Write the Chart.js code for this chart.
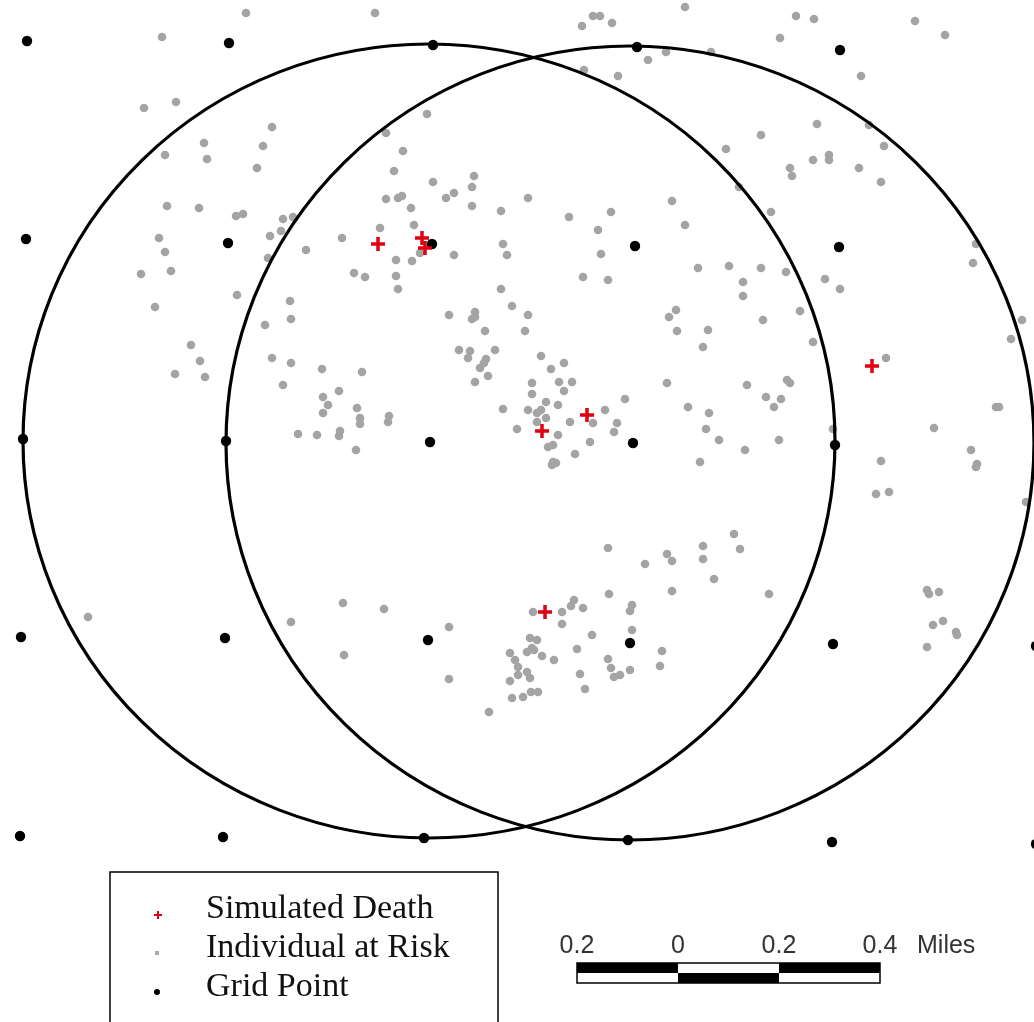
<!DOCTYPE html>
<html>
<head>
<meta charset="utf-8">
<script src="https://cdn.jsdelivr.net/npm/chart.js@4/dist/chart.umd.min.js"></script>
<style>
  html, body { margin: 0; padding: 0; background: #fff; overflow: hidden; }
  #wrap { position: relative; width: 1034px; height: 1022px; }
</style>
</head>
<body>
<div id="wrap"><canvas id="riskmap"></canvas></div>
<script>
// map units: 1 unit ~ 1/505 mile (0.2 mi ~ 101 units)
const simulatedDeaths = [
  [378, 244], [422, 238], [425, 248], [542, 431], [587, 415], [872, 366], [545, 612]
]

const gridPoints = [
  [27, 41], [229, 43], [433, 45], [637, 47], [840, 50],
  [26, 239], [228, 243], [432, 244], [635, 246], [839, 247],
  [23, 439], [226, 441], [430, 442], [633, 443], [835, 445],
  [21, 637], [225, 638], [428, 640], [630, 643], [833, 644], [1036, 646],
  [20, 836], [223, 837], [424, 838], [628, 840], [832, 842], [1036, 844]
]

const atRisk = [
  // north-west
  [246, 13], [162, 37], [144, 108], [176, 102], [272, 127], [204, 143], [263, 146],
  [165, 155], [207, 159], [257, 168], [167, 206], [199, 208], [236, 216], [243, 214],
  [283, 219], [293, 217], [281, 231], [270, 236], [159, 238], [342, 238], [165, 252],
  [306, 250], [268, 258], [141, 274], [171, 271],
  // north-centre
  [375, 13], [593, 16], [600, 16], [582, 26], [612, 23], [666, 52], [648, 60], [584, 70],
  [618, 76], [427, 114], [386, 133], [403, 151], [394, 171], [474, 176], [433, 182],
  [472, 187], [454, 193], [446, 198], [386, 199], [398, 198], [402, 196], [528, 198],
  [411, 208], [472, 206], [501, 211], [672, 201], [569, 217], [611, 212], [414, 225],
  [380, 228], [598, 230], [685, 225], [503, 244], [507, 255], [454, 255], [396, 260],
  [412, 261], [420, 253], [601, 254], [354, 273], [365, 277], [396, 276], [583, 277],
  [608, 280], [501, 289], [398, 289], [685, 7],
  // north-east
  [796, 16], [814, 19], [915, 21], [945, 35], [780, 38], [711, 52], [861, 76], [817, 124],
  [869, 125], [761, 135], [884, 146], [726, 149], [829, 155], [829, 160], [813, 160],
  [790, 168], [792, 176], [859, 168], [881, 182], [739, 187], [771, 212], [976, 244],
  [973, 263], [698, 268], [729, 266], [761, 268], [786, 272], [743, 282], [825, 279],
  [840, 289],
  // west
  [237, 295], [155, 307], [290, 301], [291, 319], [265, 325], [191, 345], [200, 361],
  [175, 374], [205, 377], [272, 358], [291, 363], [322, 369], [283, 385], [339, 391],
  [323, 397], [328, 405], [323, 413], [298, 434], [317, 435], [340, 431], [339, 436],
  // centre
  [512, 306], [528, 315], [449, 315], [475, 312], [472, 319], [475, 317], [485, 331],
  [525, 331], [459, 350], [470, 351], [468, 358], [495, 350], [486, 359], [484, 363],
  [480, 368], [488, 376], [475, 382], [541, 356], [564, 363], [551, 369], [532, 383],
  [559, 382], [572, 382], [564, 391], [532, 394], [546, 402], [558, 405], [528, 410],
  [541, 410], [537, 413], [546, 418], [537, 422], [503, 409], [517, 429], [570, 422],
  [593, 423], [605, 410], [617, 423], [625, 399], [614, 432], [558, 435], [590, 442],
  [575, 454], [548, 447], [553, 445], [553, 462], [556, 463], [552, 465], [667, 383],
  [669, 317], [676, 310], [677, 331], [688, 407], [362, 372], [357, 408], [360, 418],
  [360, 424], [389, 416], [388, 422], [356, 450], [608, 548], [645, 564], [667, 554],
  [672, 561],
  // east
  [743, 296], [800, 311], [763, 320], [708, 330], [703, 347], [813, 342], [886, 358],
  [1022, 320], [1011, 339], [747, 385], [787, 380], [790, 383], [766, 397], [781, 399],
  [774, 407], [709, 413], [706, 429], [719, 440], [779, 440], [745, 450], [700, 462],
  [833, 429], [996, 407], [999, 407], [934, 428], [971, 450], [977, 464], [976, 467],
  [881, 461], [876, 494], [889, 492], [1026, 502], [734, 534], [703, 546], [740, 549],
  [703, 559], [714, 579],
  // south
  [88, 617], [291, 622], [343, 603], [344, 655], [384, 609], [449, 627], [449, 679],
  [533, 612], [562, 612], [562, 624], [571, 606], [574, 600], [583, 608], [609, 594],
  [672, 591], [632, 605], [630, 611], [632, 630], [592, 635], [530, 638], [537, 640],
  [532, 648], [527, 652], [534, 650], [542, 656], [510, 653], [515, 660], [554, 660],
  [577, 649], [518, 667], [527, 672], [518, 675], [530, 678], [510, 681], [580, 674],
  [585, 689], [608, 659], [611, 668], [614, 677], [620, 675], [630, 670], [662, 651],
  [660, 666], [531, 692], [538, 692], [523, 697], [512, 698], [489, 712],
  // south-east
  [769, 594], [927, 590], [929, 594], [939, 592], [933, 625], [943, 621], [956, 632],
  [957, 635], [927, 647]
]

// search circles: centre x, centre y, radius x, radius y
const circles = [
  [429, 441, 406, 397],
  [630, 443, 404, 397]
]

const legendLabels = ['Simulated Death', 'Individual at Risk', 'Grid Point']
const scaleTicks = ['0.2', '0', '0.2', '0.4']
const scaleTickPos = [-0.2, 0, 0.2, 0.4]
const unitsPerMile = 505

function toPoints (arr) {
  return arr.map(p => ({ x: p[0], y: p[1] }))
}

const overlay = {
  id: 'overlay',
  afterDatasetsDraw (chart) {
    const ctx = chart.ctx
    const xs = chart.scales.x
    const ys = chart.scales.y
    ctx.save()
    // circles
    ctx.strokeStyle = '#000'
    ctx.lineWidth = 3.2
    circles.forEach(c => {
      const cx = xs.getPixelForValue(c[0])
      const cy = ys.getPixelForValue(c[1])
      const rx = Math.abs(xs.getPixelForValue(c[0] + c[2]) - cx)
      const ry = Math.abs(ys.getPixelForValue(c[1] + c[3]) - cy)
      ctx.beginPath()
      ctx.ellipse(cx, cy, rx, ry, 0, 0, Math.PI * 2)
      ctx.stroke()
    })

    // legend box
    ctx.fillStyle = '#fff'
    ctx.fillRect(110, 872, 388, 160)
    ctx.lineWidth = 1.5
    ctx.strokeRect(110, 872, 388, 160)
    ctx.font = '34px "Liberation Serif", "Times New Roman", serif'
    ctx.textBaseline = 'middle'
    ctx.fillStyle = '#111'
    legendLabels.forEach((t, i) => {
      ctx.fillText(t, 206, 909 + i * 39)
    })
    // legend symbols
    ctx.strokeStyle = '#e0000f'
    ctx.lineWidth = 2
    ctx.beginPath()
    ctx.moveTo(154, 915); ctx.lineTo(162, 915)
    ctx.moveTo(158, 911); ctx.lineTo(158, 919)
    ctx.stroke()
    ctx.fillStyle = '#aaa'
    ctx.fillRect(155, 951, 4, 4)
    ctx.fillStyle = '#000'
    ctx.beginPath()
    ctx.arc(157, 992, 3, 0, Math.PI * 2)
    ctx.fill()

    // scale bar
    const x0 = xs.getPixelForValue(678)
    const seg = xs.getPixelForValue(678 + 0.2 * unitsPerMile) - x0
    const top = 963
    const mid = 973
    const bot = 983
    ctx.fillStyle = '#000'
    ctx.fillRect(x0 - seg, top, seg, mid - top)
    ctx.fillRect(x0 + seg, top, seg, mid - top)
    ctx.fillRect(x0, mid, seg, bot - mid)
    ctx.lineWidth = 1.5
    ctx.strokeStyle = '#000'
    ctx.strokeRect(x0 - seg, top, seg * 3, bot - top)
    ctx.font = '25px "Liberation Sans", Arial, sans-serif'
    ctx.fillStyle = '#333'
    ctx.textAlign = 'center'
    ctx.textBaseline = 'alphabetic'
    scaleTicks.forEach((t, i) => {
      ctx.fillText(t, x0 + scaleTickPos[i] / 0.2 * seg, 953)
    })
    ctx.textAlign = 'left'
    ctx.fillText('Miles', 917, 953)
    ctx.restore()
  }
}

new Chart(document.getElementById('riskmap'), {
  type: 'scatter',
  data: {
    datasets: [
      {
        label: 'Simulated Death',
        data: toPoints(simulatedDeaths),
        pointStyle: 'cross',
        pointRadius: 7,
        borderColor: '#e0000f',
        borderWidth: 3.5,
        order: 1
      },
      {
        label: 'Grid Point',
        data: toPoints(gridPoints),
        pointRadius: 5.2,
        backgroundColor: '#000',
        borderWidth: 0,
        order: 2
      },
      {
        label: 'Individual at Risk',
        data: toPoints(atRisk),
        pointRadius: 4.3,
        backgroundColor: '#a4a4a4',
        borderWidth: 0,
        order: 3
      }
    ]
  },
  options: {
    responsive: true,
    maintainAspectRatio: false,
    animation: false,
    layout: { padding: 0, autoPadding: false },
    plugins: {
      legend: { display: false },
      tooltip: { enabled: false }
    },
    scales: {
      x: { type: 'linear', min: 0, max: 1034, display: false },
      y: { type: 'linear', min: 0, max: 1022, reverse: true, display: false }
    }
  },
  plugins: [overlay]
})
</script>
</body>
</html>
